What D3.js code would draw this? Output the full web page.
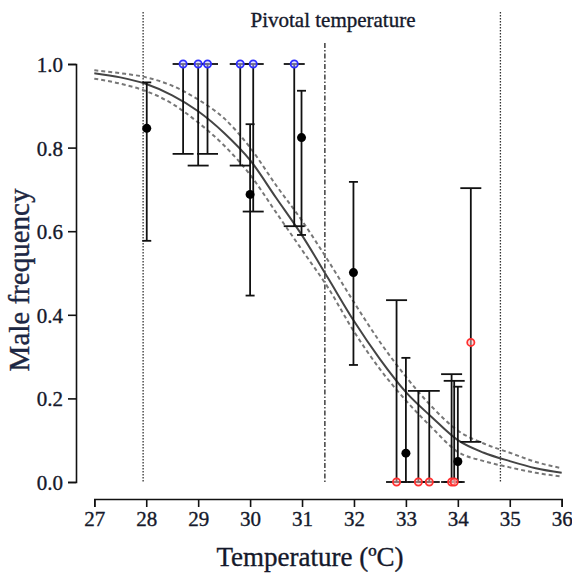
<!DOCTYPE html>
<html>
<head>
<meta charset="utf-8">
<script src="https://cdn.jsdelivr.net/npm/d3@7"></script>
<style>
  body { margin: 0; background: #fff; }
  svg text { font-family: "Liberation Serif", "Times New Roman", serif; fill: #15192b; stroke: #15192b; stroke-width: 0.35px; }
</style>
</head>
<body>
<div id="chart"></div>
<script>
// Fitted curve and its confidence band
var curveT     = [27, 27.5, 28, 28.5, 29, 29.5, 30, 30.5, 31, 31.5, 32, 32.5, 33, 33.5, 34, 34.5, 35, 35.5, 36];
var curveMid   = [0.978, 0.968, 0.952, 0.925, 0.887, 0.835, 0.77, 0.68, 0.59, 0.488, 0.385, 0.294, 0.215, 0.155, 0.1, 0.07, 0.05, 0.033, 0.022];
var curveUpper = [0.985, 0.978, 0.968, 0.948, 0.915, 0.87, 0.80, 0.71, 0.625, 0.53, 0.43, 0.335, 0.252, 0.18, 0.123, 0.092, 0.07, 0.048, 0.033];
var curveLower = [0.965, 0.953, 0.935, 0.905, 0.86, 0.805, 0.735, 0.645, 0.555, 0.465, 0.36, 0.27, 0.195, 0.13, 0.072, 0.05, 0.035, 0.022, 0.013];

// Observed frequencies with confidence intervals
var filledT  = [28.01, 30.0, 30.99, 31.99, 33.0, 34.0];
var filledV  = [0.846, 0.688, 0.824, 0.501, 0.069, 0.049];
var filledLo = [0.577, 0.446, 0.591, 0.28, 0, 0];
var filledHi = [0.956, 0.856, 0.936, 0.718, 0.297, 0.228];

var maleT  = [28.71, 29.0, 29.18, 29.81, 30.06, 30.85];
var maleLo = [0.785, 0.757, 0.785, 0.757, 0.647, 0.612];

var femaleT  = [32.82, 33.24, 33.45, 33.88, 33.93, 34.25];
var femaleV  = [0, 0, 0, 0, 0, 0.334];
var femaleLo = [0, 0, 0, 0, 0, 0.096];
var femaleHi = [0.435, 0.218, 0.218, 0.258, 0.242, 0.703];

var limitT = [27.94, 34.82];
var pivotalT = 31.44;

var xTicks = [27, 28, 29, 30, 31, 32, 33, 34, 35, 36];
var yTicks = [0, 0.2, 0.4, 0.6, 0.8, 1.0];

var W = 572, H = 574;
var serif = "'Liberation Serif', 'Times New Roman', serif";

var svg = d3.select("#chart")
	.append("svg")
	.attr("width", W)
	.attr("height", H);

var x = d3.scaleLinear().domain([27, 36]).range([94.3, 561.7]);
var y = d3.scaleLinear().domain([0, 1]).range([482, 64]);

// Axes (offset, Prism style)
var xAxis = svg.append("g")
	.attr("transform", "translate(0,499)")
	.call(d3.axisBottom(x).tickValues(xTicks).tickSize(8).tickPadding(4).tickFormat(d3.format("d")));
var yAxis = svg.append("g")
	.attr("transform", "translate(76,0)")
	.call(d3.axisLeft(y).tickValues(yTicks).tickSize(8).tickPadding(5).tickFormat(d3.format(".1f")));

[xAxis, yAxis].forEach(function(a) {
	a.attr("font-family", serif).attr("font-size", 21);
	a.select(".domain").attr("stroke", "#111").attr("stroke-width", 1.6);
	a.selectAll(".tick line").attr("stroke", "#111").attr("stroke-width", 1.6);
	a.selectAll(".tick text")
		.attr("font-family", serif)
		.style("font-family", serif)
		.style("font-size", "21px")
		.style("fill", "#15192b");
});
xAxis.selectAll(".tick text").attr("dy", "0.72em");
yAxis.selectAll(".tick text").attr("dy", "0.36em");

// Reference lines
svg.selectAll("line.limit")
	.data(limitT)
	.enter()
	.append("line")
	.attr("class", "limit")
	.attr("x1", function(d) { return x(d); })
	.attr("x2", function(d) { return x(d); })
	.attr("y1", 12)
	.attr("y2", y(0))
	.attr("stroke", "#333")
	.attr("stroke-width", 1.3)
	.attr("stroke-dasharray", "1.4,1.6");

svg.append("line")
	.attr("x1", x(pivotalT))
	.attr("x2", x(pivotalT))
	.attr("y1", 43)
	.attr("y2", y(0))
	.attr("stroke", "#222")
	.attr("stroke-width", 1.3)
	.attr("stroke-dasharray", "5,2,1.5,2");

svg.append("text")
	.attr("x", 333)
	.attr("y", 27)
	.attr("text-anchor", "middle")
	.style("font-size", "21px")
	.text("Pivotal temperature");

// Curve + band
var line = d3.line()
	.x(function(d) { return x(d[0]); })
	.y(function(d) { return y(d[1]); })
	.curve(d3.curveMonotoneX);

svg.append("path")
	.datum(d3.zip(curveT, curveUpper))
	.attr("d", line)
	.attr("fill", "none")
	.attr("stroke", "#777")
	.attr("stroke-width", 2)
	.attr("stroke-dasharray", "4,3");
svg.append("path")
	.datum(d3.zip(curveT, curveLower))
	.attr("d", line)
	.attr("fill", "none")
	.attr("stroke", "#777")
	.attr("stroke-width", 2)
	.attr("stroke-dasharray", "4,3");
svg.append("path")
	.datum(d3.zip(curveT, curveMid))
	.attr("d", line)
	.attr("fill", "none")
	.attr("stroke", "#444")
	.attr("stroke-width", 2);

// Error bars
function errorBars(ts, lo, hi, capW) {
	var g = svg.append("g").attr("stroke", "#111").attr("stroke-width", 1.8);
	var rows = d3.zip(ts, lo, hi);
	g.selectAll("line.v").data(rows).enter().append("line")
		.attr("x1", function(d) { return x(d[0]); })
		.attr("x2", function(d) { return x(d[0]); })
		.attr("y1", function(d) { return y(d[1]); })
		.attr("y2", function(d) { return y(d[2]); });
	g.selectAll("line.lo").data(rows).enter().append("line")
		.attr("x1", function(d) { return x(d[0]) - capW; })
		.attr("x2", function(d) { return x(d[0]) + capW; })
		.attr("y1", function(d) { return y(d[1]); })
		.attr("y2", function(d) { return y(d[1]); });
	g.selectAll("line.hi").data(rows).enter().append("line")
		.attr("x1", function(d) { return x(d[0]) - capW; })
		.attr("x2", function(d) { return x(d[0]) + capW; })
		.attr("y1", function(d) { return y(d[2]); })
		.attr("y2", function(d) { return y(d[2]); });
}

errorBars(maleT, maleLo, maleT.map(function() { return 1; }), 10.5);
errorBars(femaleT, femaleLo, femaleHi, 10.5);
errorBars(filledT, filledLo, filledHi, 4.5);

// Points
svg.append("g").selectAll("circle")
	.data(maleT)
	.enter()
	.append("circle")
	.attr("cx", function(d) { return x(d); })
	.attr("cy", y(1))
	.attr("r", 3.6)
	.attr("fill", "#c8c8ff")
	.attr("fill-opacity", 0.5)
	.attr("stroke", "#2f2fff")
	.attr("stroke-width", 1.8);

svg.append("g").selectAll("circle")
	.data(d3.zip(femaleT, femaleV))
	.enter()
	.append("circle")
	.attr("cx", function(d) { return x(d[0]); })
	.attr("cy", function(d) { return y(d[1]); })
	.attr("r", 3.6)
	.attr("fill", "#ffc8c8")
	.attr("fill-opacity", 0.5)
	.attr("stroke", "#ff3030")
	.attr("stroke-width", 1.8);

svg.append("g").selectAll("circle")
	.data(d3.zip(filledT, filledV))
	.enter()
	.append("circle")
	.attr("cx", function(d) { return x(d[0]); })
	.attr("cy", function(d) { return y(d[1]); })
	.attr("r", 4.5)
	.attr("fill", "#000");

// Axis titles
svg.append("text")
	.attr("x", 310)
	.attr("y", 566)
	.attr("text-anchor", "middle")
	.style("font-size", "27px")
	.text("Temperature (ºC)");

svg.append("text")
	.attr("transform", "translate(29,280) rotate(-90)")
	.attr("text-anchor", "middle")
	.style("font-size", "29px")
	.style("fill", "#1c2848")
	.text("Male frequency");
</script>
</body>
</html>
